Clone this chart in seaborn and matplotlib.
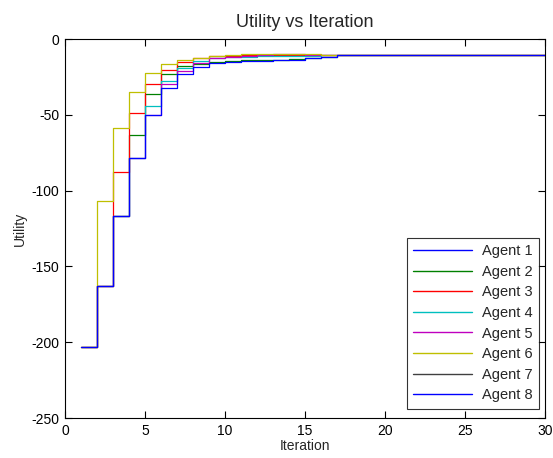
import matplotlib
matplotlib.use('Agg')
import matplotlib.pyplot as plt
import seaborn as sns
import numpy as np
import pandas as pd

iterations = list(range(1, 31))

agent1 = [-203, -163, -117, -78.3, -50.1, -32.1, -23.1, -18.5, -15.6, -15.2, -14.8, -14.3, -13.9, -13.9, -12.3, -11.6] + [-10.8] * 14
agent2 = [-203, -163, -117, -63.3, -36.3, -23.1, -18.0, -16.5, -15.0, -14.3, -14.1, -13.9, -13.6, -13.4, -12.3, -11.6] + [-10.8] * 14
agent3 = [-203, -163, -87.5, -48.7, -29.7, -20.2, -15.4, -12.8, -11.5, -11.0, -10.6, -10.4, -10.4, -10.4, -10.6, -10.8] + [-10.8] * 14
agent4 = [-203, -163, -117, -78.3, -44.2, -27.6, -18.8, -14.6, -12.6, -12.0, -11.6, -11.2, -11.0, -11.0, -10.9, -10.8] + [-10.8] * 14
agent5 = [-203, -163, -117, -78.3, -50.1, -29.9, -21.1, -15.8, -12.2, -11.6, -11.2, -10.3, -10.2, -10.2, -10.8, -10.8] + [-10.8] * 14
agent6 = [-203, -107, -59.0, -34.7, -22.5, -16.7, -13.9, -12.3, -11.0, -10.6, -10.1, -9.9, -9.9, -9.9, -9.9, -10.3] + [-10.8] * 14
agent7 = [-203, -163, -117, -78.3, -50.1, -32.1, -23.1, -18.5, -15.6, -15.2, -14.8, -14.3, -13.9, -13.9, -12.3, -11.6] + [-10.8] * 14
agent8 = [-203, -163, -117, -78.3, -50.1, -32.1, -23.1, -18.5, -15.6, -15.2, -14.8, -14.3, -13.9, -13.9, -12.3, -11.6] + [-10.8] * 14

agent_names = [f'Agent {i}' for i in range(1, 9)]
agent_values = [agent1, agent2, agent3, agent4, agent5, agent6, agent7, agent8]
colors = [(0, 0, 1), (0, 0.5, 0), (1, 0, 0), (0, 0.75, 0.75),
          (0.75, 0, 0.75), (0.75, 0.75, 0), (0.25, 0.25, 0.25), (0, 0, 1)]

df = pd.DataFrame({
    'Iteration': iterations * len(agent_names),
    'Utility': np.concatenate(agent_values),
    'Agent': np.repeat(agent_names, len(iterations)),
})

sns.set_style('white')
plt.rcParams['font.family'] = ['Liberation Sans', 'DejaVu Sans']
plt.rcParams['axes.unicode_minus'] = False

fig = plt.figure(figsize=(5.53, 4.58), dpi=100)
ax = fig.add_axes([0.1175, 0.0873, 0.868, 0.8275])

sns.lineplot(data=df, x='Iteration', y='Utility', hue='Agent',
             palette=colors, estimator=None, sort=False,
             drawstyle='steps-post', linewidth=0.9, ax=ax)

# agents 1, 7 and 8 share a path; keep the ones underneath thin so blue stays clean
ax.lines[0].set_linewidth(0.4)
ax.lines[6].set_linewidth(0.4)

ax.set_xlim(0, 30)
ax.set_ylim(-250, 0)
ax.set_xticks(range(0, 31, 5))
ax.set_yticks(range(-250, 1, 50))
ax.tick_params(direction='in', length=5, width=0.8, labelsize=10, pad=4,
               top=True, right=True, bottom=True, left=True, colors='black')
for s in ax.spines.values():
    s.set_color('black')
    s.set_linewidth(0.8)

ax.set_title('Utility vs Iteration', fontsize=13, pad=9)
ax.set_xlabel('Iteration', fontsize=10, labelpad=1)
ax.set_ylabel('Utility', fontsize=10, labelpad=3)

leg = ax.legend(loc='lower right', bbox_to_anchor=(1.003, 0.005), fontsize=10.5,
                handlelength=4.0, labelspacing=0.45, fancybox=False,
                frameon=True, borderpad=0.45, handletextpad=0.7)
leg.get_frame().set_edgecolor('black')
leg.get_frame().set_linewidth(0.8)
for line in leg.get_lines():
    line.set_linewidth(1.0)

fig.savefig('out.png', dpi=100)
